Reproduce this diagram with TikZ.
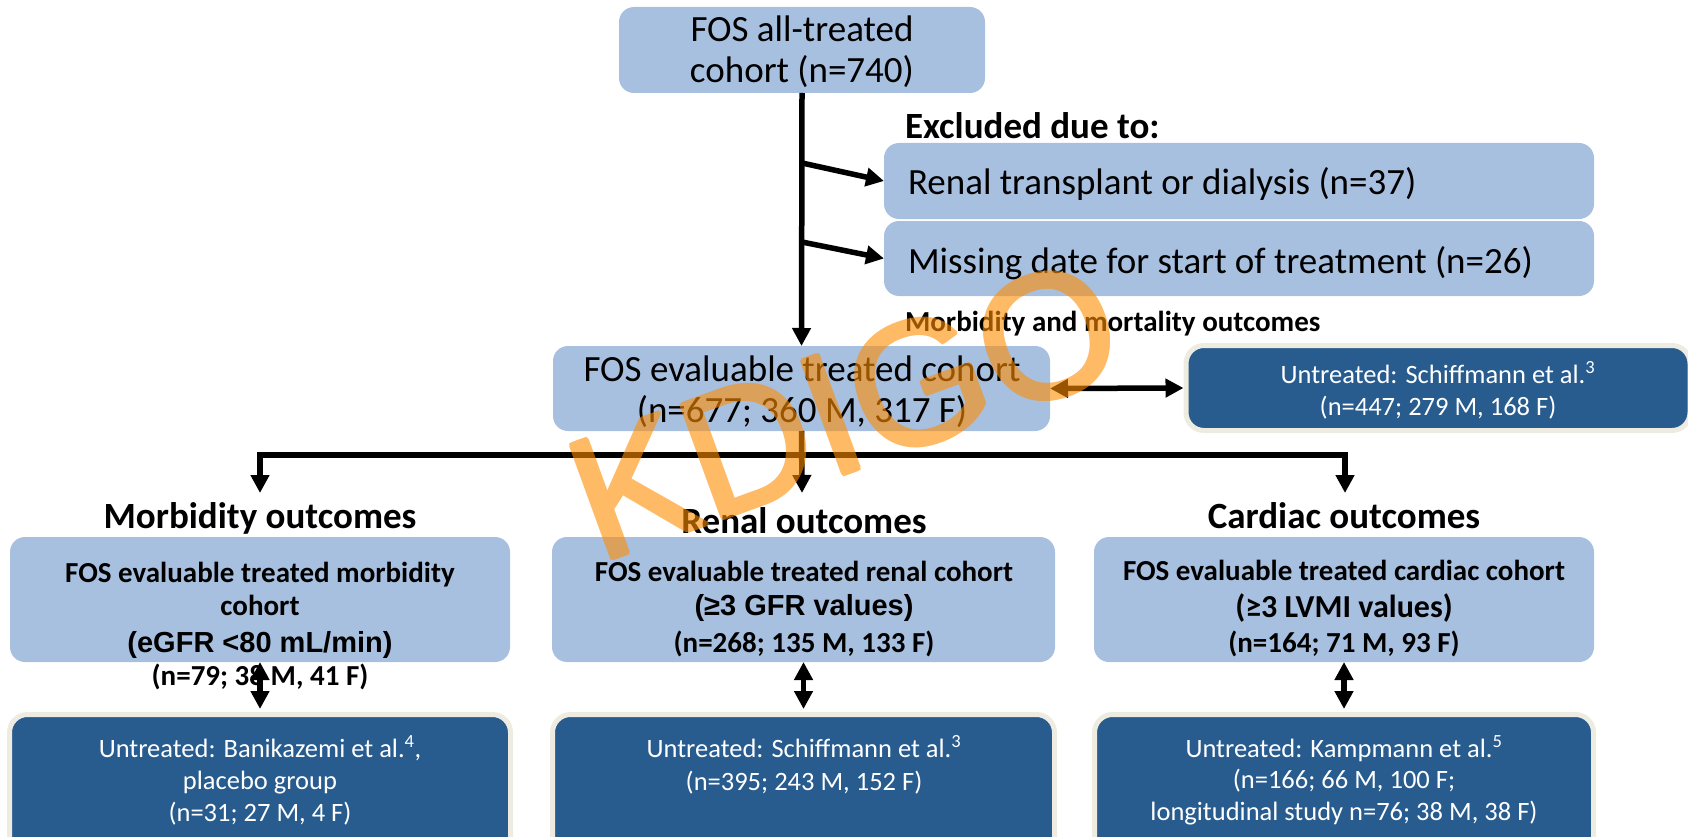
\documentclass[tikz,border=0pt]{standalone}
\usepackage{fontspec}
\setmainfont{Carlito}
\newfontfamily\arialf{Liberation Sans}
\usetikzlibrary{arrows.meta}
\definecolor{lblue}{RGB}{167,192,223}
\definecolor{dblue}{RGB}{40,92,143}
\definecolor{tanb}{RGB}{238,236,225}
\definecolor{wmark}{RGB}{255,140,0}
\tikzset{
  lbox/.style={fill=lblue, rounded corners=15pt, inner sep=0pt, outer sep=0pt},
  dbox/.style={fill=dblue, draw=tanb, line width=5pt, rounded corners=18pt, inner sep=0pt},
  txt/.style={anchor=base, inner sep=0pt, outer sep=0pt},
  ltxt/.style={anchor=base west, inner sep=0pt, outer sep=0pt},
  big/.style={font=\fontsize{37pt}{44pt}\selectfont},
  bigb/.style={font=\fontsize{37pt}{44pt}\selectfont\bfseries},
  midb/.style={font=\fontsize{29pt}{35pt}\selectfont\bfseries},
  arb/.style={font=\arialf\fontsize{29pt}{35pt}\selectfont\bfseries},
  sm/.style={font=\fontsize{26.5pt}{32pt}\selectfont, text=white},
  arr/.style={line width=5.5pt, -{Triangle[width=18pt,length=18pt]}},
  darr/.style={line width=5.5pt, {Triangle[width=18pt,length=18pt]}-{Triangle[width=18pt,length=18pt]}},
  wmk/.style={text=wmark, inner sep=0pt, rotate=20, font=\arialf\fontsize{176pt}{176pt}\selectfont},
}
\begin{document}
\begin{tikzpicture}[x=1pt,y=-1pt]
\useasboundingbox (0,0) rectangle (1688,837);
\clip (0,0) rectangle (1688,837);
% boxes
\node[lbox, minimum width=366pt, minimum height=86pt] (top) at (802,50) {};
\node[lbox, minimum width=710pt, minimum height=76pt] (ex1) at (1239,181) {};
\node[lbox, minimum width=710pt, minimum height=75pt] (ex2) at (1239,258.5) {};
\node[lbox, minimum width=497pt, minimum height=85pt] (eval) at (801.5,388.5) {};
\node[dbox, minimum width=504pt, minimum height=85pt] (sch) at (1438,388) {};
\node[lbox, minimum width=500pt, minimum height=125pt] (mlb) at (260,599.5) {};
\node[lbox, minimum width=503pt, minimum height=125pt] (rlb) at (803.5,599.5) {};
\node[lbox, minimum width=500pt, minimum height=125pt] (clb) at (1344,599.5) {};
\node[dbox, minimum width=501pt, minimum height=155pt] (mdb) at (260,792) {};
\node[dbox, minimum width=502pt, minimum height=155pt] (rdb) at (803.5,792) {};
\node[dbox, minimum width=499pt, minimum height=155pt] (cdb) at (1344,792) {};
% texts
\node[txt, big] (t1) at (802,42) {FOS all-treated};
\node[txt, big] (t2) at (802,83) {cohort (n=740)};
\node[ltxt, bigb] (exh) at (905,139) {Excluded due to:};
\node[ltxt, big] (e1) at (908,195) {Renal transplant or dialysis (n=37)};
\node[ltxt, big] (e2) at (908,273) {Missing date for start of treatment (n=26)};
\node[ltxt, font=\fontsize{29pt}{35pt}\selectfont\bfseries] (mmo) at (905,331) {Morbidity and mortality outcomes};
\node[txt, big] (v1) at (802,381) {FOS evaluable treated cohort};
\node[txt, big] (v2) at (802,422) {(n=677; 360 M, 317 F)};
\node[txt, sm] (s1) at (1438,383) {Untreated: Schiffmann et al.\textsuperscript{3}};
\node[txt, sm] (s2) at (1438,415) {(n=447; 279 M, 168 F)};
\node[txt, bigb] (hm) at (260,528) {Morbidity outcomes};
\node[txt, bigb] (hr) at (804,533) {Renal outcomes};
\node[txt, bigb] (hc) at (1344,528) {Cardiac outcomes};
\node[txt, midb] (m1) at (260,582) {FOS evaluable treated morbidity};
\node[txt, midb] (m2) at (260,615) {cohort};
\node[txt, arb] (m3) at (260,652) {(eGFR <80 mL/min)};
\node[txt, midb] (m4) at (260,685) {(n=79; 38 M, 41 F)};
\node[txt, midb] (r1) at (804,581) {FOS evaluable treated renal cohort};
\node[txt, arb] (r2) at (804,615) {(≥3 GFR values)};
\node[txt, midb] (r3) at (804,652) {(n=268; 135 M, 133 F)};
\node[txt, midb] (c1) at (1344,580) {FOS evaluable treated cardiac cohort};
\node[txt, font=\fontsize{32pt}{38pt}\selectfont\bfseries] (c2) at (1344,617) {(≥3 LVMI values)};
\node[txt, midb] (c3) at (1344,652) {(n=164; 71 M, 93 F)};
\node[txt, sm] (md1) at (260,757) {Untreated: Banikazemi et al.\textsuperscript{4},};
\node[txt, sm] (md2) at (260,789) {placebo group};
\node[txt, sm] (md3) at (260,821) {(n=31; 27 M, 4 F)};
\node[txt, sm] (rd1) at (804,757) {Untreated: Schiffmann et al.\textsuperscript{3}};
\node[txt, sm] (rd2) at (804,790) {(n=395; 243 M, 152 F)};
\node[txt, sm] (cd1) at (1344,757) {Untreated: Kampmann et al.\textsuperscript{5}};
\node[txt, sm] (cd2) at (1344,788) {(n=166; 66 M, 100 F;};
\node[txt, sm] (cd3) at (1344,820) {longitudinal study n=76; 38 M, 38 F)};
% connectors
\coordinate (b1) at (802,163);
\coordinate (b2) at (802,242);
\coordinate (j) at (802,455);
\coordinate (al) at (260,493);
\coordinate (am) at (802,493);
\coordinate (ar) at (1345,493);
\draw[arr] (top.south) -- (eval.north);
\draw[arr] (b1) -- (ex1.west);
\draw[arr] (b2) -- (ex2.west);
\draw[darr] (eval.east) -- (sch.west);
\draw[arr] (eval.south) -- (am);
\draw[arr] (j) -| (al);
\draw[arr] (j) -| (ar);
\draw[darr, shorten >=3pt] (mlb.south) -- (mdb.north);
\draw[darr, shorten >=3pt] (rlb.south) -- (rdb.north);
\draw[darr, shorten >=3pt] (clb.south) -- (cdb.north);
% watermark (thickened by overlaid copies inside one transparency group)
\begin{scope}[transparency group, opacity=0.6]
\foreach \dx/\dy [count=\i] in {0/0, 2/0, -2/0, 0/2, 0/-2, 1.4/1.4, -1.4/1.4, 1.4/-1.4, -1.4/-1.4}
  \node[wmk] (wm\i) at (845+\dx, 410+\dy) {KDIGO};
\end{scope}
\end{tikzpicture}
\end{document}
